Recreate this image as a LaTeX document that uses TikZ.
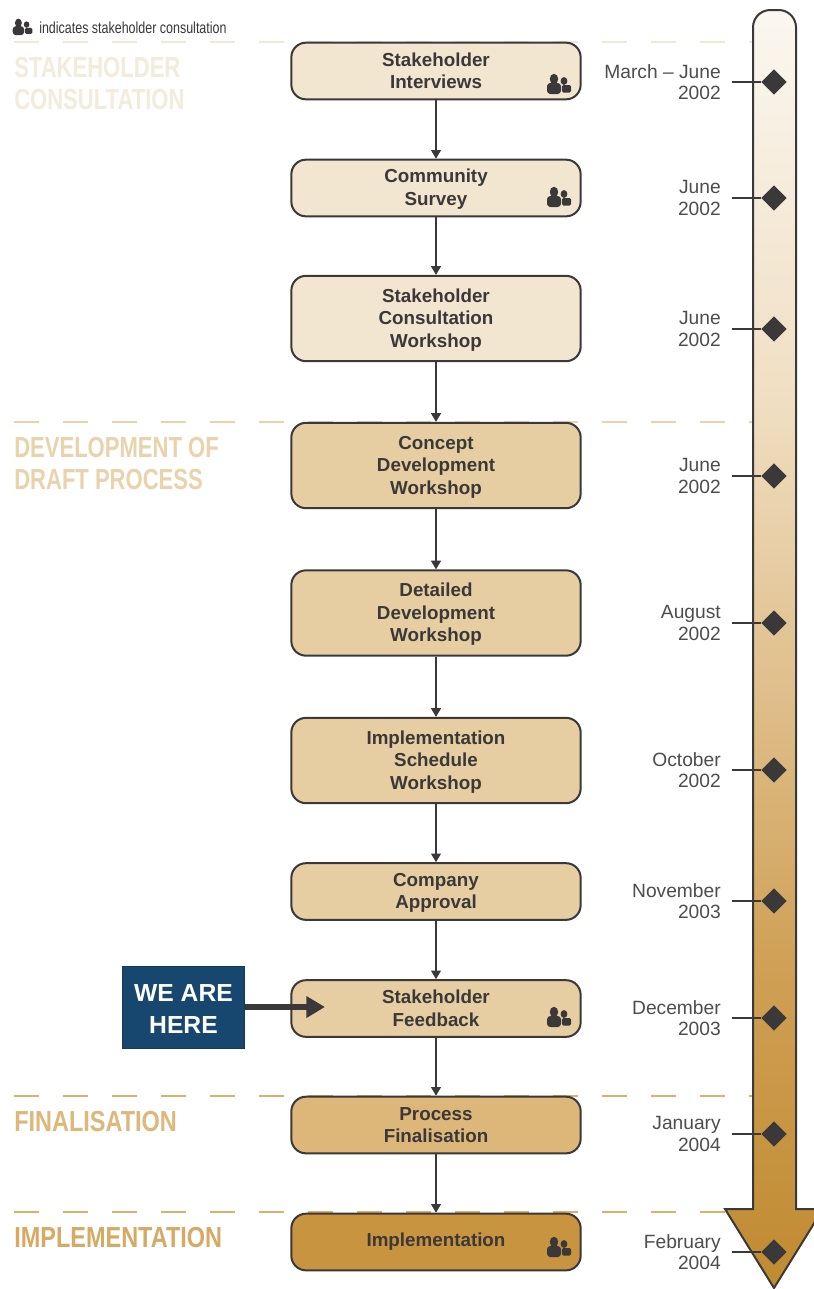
\documentclass[tikz,border=0pt]{standalone}
\usepackage{fontspec}
\usetikzlibrary{arrows.meta,shapes.geometric}
\setmainfont{Liberation Sans}
\newfontfamily\seclabelfont[FakeStretch=0.76]{Liberation Sans Bold}
\newfontfamily\seclabelwide[FakeStretch=0.81]{Liberation Sans Bold}
\newfontfamily\legendfont[FakeStretch=0.78]{Liberation Sans}
\newcommand{\tbs}{\rule[-2pt]{0pt}{14pt}}
\definecolor{inkdark}{HTML}{3A3838}
\definecolor{gradA}{HTML}{FBF7F0}
\definecolor{gradB}{HTML}{F0DFC3}
\definecolor{gradC}{HTML}{DDBB84}
\definecolor{gradD}{HTML}{CFA055}
\definecolor{gradE}{HTML}{C08A30}
\definecolor{fillpale}{HTML}{F3E6D0}
\definecolor{fillmid}{HTML}{E7CEA2}
\definecolor{fillfin}{HTML}{DDB67A}
\definecolor{fillimp}{HTML}{C8943F}
\definecolor{navybox}{HTML}{17476F}
\pgfdeclareverticalshading{arrowgrad}{100bp}{
  color(0bp)=(gradE); color(25bp)=(gradE); color(37.5bp)=(gradD); color(47bp)=(gradC);
  color(60bp)=(gradB); color(75bp)=(gradA); color(100bp)=(gradA)}
\tikzset{
  procbox/.style={draw=inkdark,line width=1.5pt,rounded corners=11pt,minimum width=217pt,
    inner sep=0pt,align=center,text=inkdark,font=\fontsize{14.1pt}{16.9pt}\selectfont\bfseries},
  flowarrow/.style={draw=inkdark,line width=0.8pt,-{Triangle[length=6.5pt,width=7.5pt]}},
  datelabel/.style={anchor=east,inner sep=0pt,align=right,text=inkdark!90,font=\fontsize{14.4pt}{16.2pt}\selectfont},
  marker/.style={diamond,fill=inkdark,inner sep=0pt,minimum width=19pt,minimum height=19pt},
  tickline/.style={draw=inkdark,line width=1.5pt},
  seclabel/.style={anchor=west,inner sep=0pt,align=left,font=\fontsize{21.75pt}{24pt}\seclabelfont},
  seclabelw/.style={anchor=west,inner sep=0pt,align=left,font=\fontsize{21.75pt}{24pt}\seclabelwide},
  secdash/.style={line width=1.4pt,dash pattern=on 18.75pt off 18pt},
  pics/people/.style={code={
    \fill[inkdark] (-5,-5) ellipse [x radius=4.2,y radius=5.2];
    \fill[inkdark,rounded corners=2.5pt] (-12,10) -- (-12,-1) -- (2,-1) -- (2,10) -- cycle;
    \fill[inkdark] (5,-3) ellipse [x radius=3.4,y radius=3.9];
    \fill[inkdark,rounded corners=1pt] (3,8.5) -- (3,1) -- (12,1) -- (12,8.5) -- cycle;
  }}
}
\begin{document}
\begin{tikzpicture}[x=0.75pt,y=-0.75pt]
\clip (0,0) rectangle (814,1289);
\fill[white] (0,0) rectangle (814,1289);
% section dashes
\draw[secdash,color={rgb,255:red,241;green,233;blue,214}] (14,42) -- (753,42);
\draw[secdash,color={rgb,255:red,232;green,211;blue,172}] (14,422) -- (753,422);
\draw[secdash,color={rgb,255:red,217;green,176;blue,110}] (14,1096) -- (753,1096);
\draw[secdash,color={rgb,255:red,217;green,176;blue,110}] (14,1212) -- (753,1212);
% section labels
\node[seclabel,text={rgb,255:red,243;green,235;blue,219}] (secA) at (14,84) {STAKEHOLDER\\CONSULTATION};
\node[seclabel,text={rgb,255:red,232;green,211;blue,172}] (secB) at (14,464) {DEVELOPMENT OF\\DRAFT PROCESS};
\node[seclabelw,text={rgb,255:red,221;green,184;blue,122}] (secC) at (14,1122) {FINALISATION};
\node[seclabelw,text={rgb,255:red,214;green,170;blue,100}] (secD) at (14,1238) {IMPLEMENTATION};
% legend
\pic[scale=0.82] at (22.5,27) {people};
\node[anchor=west,inner sep=0pt,text=inkdark,font=\fontsize{12pt}{14pt}\legendfont] (legend) at (39,27.5) {indicates stakeholder consultation};
% timeline arrow
\path[shading=arrowgrad,draw=inkdark,line width=1.5pt]
  (753,1209) [rounded corners=13pt] -- (753,10) -- (796,10) [sharp corners] -- (796,1209) -- (823,1209) -- (774,1288) -- (725,1209) -- cycle;
% process boxes
\node[procbox,fill=fillpale,minimum height=42.5pt] (b1) at (436,71) {\tbs Stakeholder\\Interviews\tbs};
\node[procbox,fill=fillpale,minimum height=42.5pt] (b2) at (436,188) {\tbs Community\\Survey\tbs};
\node[procbox,fill=fillpale,minimum height=64pt] (b3) at (436,318.5) {\tbs Stakeholder\\Consultation\\Workshop\tbs};
\node[procbox,fill=fillmid,minimum height=64pt] (b4) at (436,465.5) {\tbs Concept\\Development\\Workshop\tbs};
\node[procbox,fill=fillmid,minimum height=64pt] (b5) at (436,613) {\tbs Detailed\\Development\\Workshop\tbs};
\node[procbox,fill=fillmid,minimum height=64pt] (b6) at (436,760.5) {\tbs Implementation\\Schedule\\Workshop\tbs};
\node[procbox,fill=fillmid,minimum height=42.5pt] (b7) at (436,891.5) {\tbs Company\\Approval\tbs};
\node[procbox,fill=fillmid,minimum height=42.5pt] (b8) at (436,1008.5) {\tbs Stakeholder\\Feedback\tbs};
\node[procbox,fill=fillfin,minimum height=42.5pt] (b9) at (436,1125) {\tbs Process\\Finalisation\tbs};
\node[procbox,fill=fillimp,minimum height=42.5pt] (b10) at (436,1242) {\rule[-3pt]{0pt}{13pt}Implementation};
% connectors
\foreach \a/\b in {b1/b2,b2/b3,b3/b4,b4/b5,b5/b6,b6/b7,b7/b8,b8/b9,b9/b10}
  \draw[flowarrow] (\a.south) -- (\b.north);
% icons
\pic at (559,84) {people};
\pic at (559,197) {people};
\pic at (559,1017) {people};
\pic at (559,1247) {people};
% we are here
\node[fill=navybox,draw=navybox!80!black,line width=0.6pt,minimum width=92pt,minimum height=61.5pt,inner sep=0pt,align=center,text=white,
  font=\fontsize{18.5pt}{24pt}\selectfont\bfseries] (here) at (183.5,1007) {\rule{0pt}{16.2pt}WE ARE\\HERE};
\coordinate (herepoint) at (325,1007);
\draw[inkdark,line width=5pt,-{Triangle[length=14pt,width=15.5pt]}] (here.east) -- (herepoint);
% dates and markers
\foreach \n/\y/\t in {1/82/{March -- June\\2002},2/198/{June\\2002},3/329/{June\\2002},4/476/{June\\2002},
  5/623/{August\\2002},6/770/{October\\2002},7/901/{November\\2003},8/1018/{December\\2003},
  9/1134/{January\\2004},10/1252/{February\\2004}}{
  \node[datelabel] (date\n) at (721,\y) {\t};
  \node[marker] (dm\n) at (774,\y) {};
  \coordinate (tick\n) at (732,\y);
  \draw[tickline] (tick\n) -- (dm\n);
}
\end{tikzpicture}
\end{document}
